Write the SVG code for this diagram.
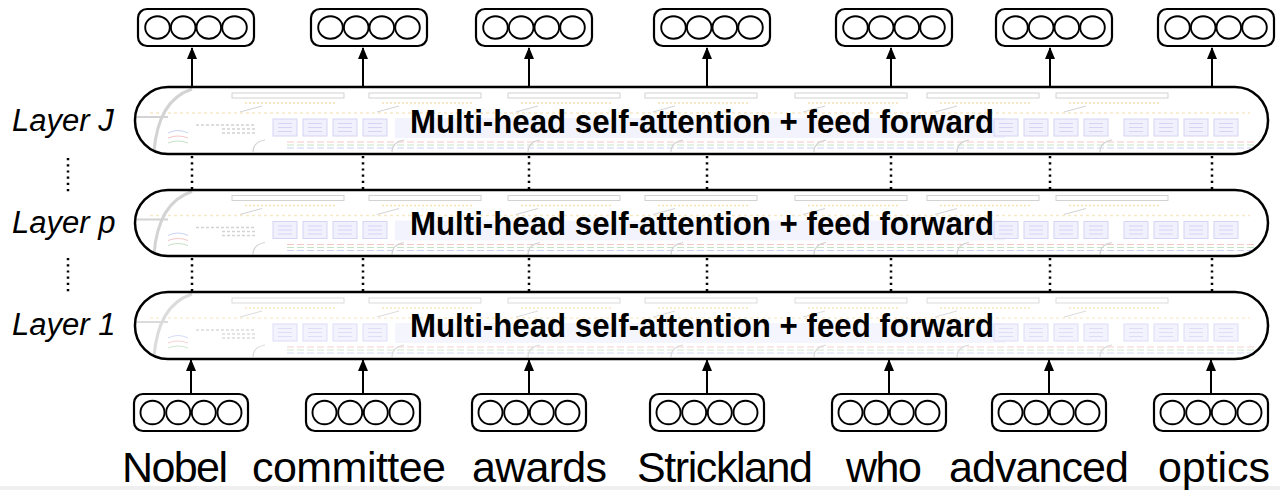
<svg xmlns="http://www.w3.org/2000/svg" xmlns:xlink="http://www.w3.org/1999/xlink" width="1280" height="490" viewBox="0 0 1280 490">
  <style>
    .layer { fill: none; stroke: #000; stroke-width: 2.5; }
    .layer-bg { fill: #fff; }
    .vec { fill: #fff; stroke: #000; stroke-width: 2.2; }
    .unit { fill: none; stroke: #000; stroke-width: 1.9; }
    .arrow { stroke: #000; stroke-width: 2; fill: none; marker-end: url(#ah); }
    .dots { stroke: #000; stroke-width: 2.5; stroke-dasharray: 2.2 4; fill: none; }
    .title { font-family: "Liberation Sans", Arial, sans-serif; font-weight: bold; font-size: 34px; fill: #000; }
    .side { font-family: "Liberation Sans", Arial, sans-serif; font-style: italic; font-size: 31px; fill: #000; }
    .word { font-family: "Liberation Sans", Arial, sans-serif; font-size: 43px; fill: #000; }
    .g-rect { fill: none; stroke: #bdbdbd; stroke-width: 0.9; }
    .g-blk { fill: #ececfc; stroke: #c6c6f2; stroke-width: 1; }
    .g-ln { stroke: #c6c6f2; stroke-width: 1; }
    .g-gray { fill: none; stroke: #c4c4c4; }
  </style>
  <defs>
    <marker id="ah" viewBox="0 0 12 10" refX="11" refY="5" markerWidth="12" markerHeight="10" orient="auto" markerUnits="userSpaceOnUse">
      <path d="M0,0 L12,5 L0,10 z" fill="#000"/>
    </marker>
    <clipPath id="pill">
      <rect x="136" y="88" width="1131" height="65" rx="32" ry="32"/>
    </clipPath>
    <!-- three-line block of the faded encoder sketch -->
    <g id="blk">
      <rect class="g-blk" x="0" y="0" width="24" height="17"/>
      <path class="g-ln" d="M5,4.5 H19 M5,8.5 H19 M5,12.5 H19"/>
    </g>
    <g id="blk4">
      <use xlink:href="#blk" x="0"/>
      <use xlink:href="#blk" x="30"/>
      <use xlink:href="#blk" x="60"/>
      <use xlink:href="#blk" x="90"/>
    </g>
    <!-- faded sketch drawn behind every layer -->
    <g id="sketch">
      <rect x="395" y="118" width="610" height="20" fill="#efeffd"/>
      <g class="g-rect">
        <rect x="232" y="93" width="112" height="5"/>
        <rect x="369" y="93" width="112" height="5"/>
        <rect x="508" y="93" width="112" height="5"/>
        <rect x="645" y="93" width="112" height="5"/>
        <rect x="795" y="93" width="112" height="5"/>
        <rect x="927" y="93" width="112" height="5"/>
        <rect x="1056" y="93" width="112" height="5"/>
      </g>
      <path d="M245,103 H335 M382,103 H472 M521,103 H611 M658,103 H748 M808,103 H898 M940,103 H1030 M1069,103 H1159" stroke="#f1d89a" stroke-width="1.5" stroke-dasharray="2 2"/>
      <path d="M150,113 H1250" stroke="#f5e2b5" stroke-width="1.5" stroke-dasharray="3 3"/>
      <path class="g-gray" stroke-width="1" d="M240,112 L262,106 M377,112 L399,106 M516,112 L538,106 M653,112 L675,106 M803,112 L825,106 M935,112 L957,106 M1064,112 L1086,106"/>
      <use xlink:href="#blk4" x="273" y="119"/>
      <use xlink:href="#blk4" x="994" y="119"/>
      <use xlink:href="#blk4" x="1124" y="119"/>
      <path d="M287,142 H1255" stroke="#f0b4b4" stroke-width="1" stroke-dasharray="7 3"/>
      <path d="M287,145 H1255" stroke="#b2d8b2" stroke-width="1" stroke-dasharray="7 3"/>
      <path d="M287,148 H1255" stroke="#b8c4f2" stroke-width="1" stroke-dasharray="7 3"/>
      <path class="g-gray" stroke-width="1.2" d="M265,140 Q253,142 253,152 M404,140 Q392,142 392,152 M540,140 Q528,142 528,152 M683,140 Q671,142 671,152 M826,140 Q814,142 814,152 M969,140 Q957,142 957,152 M1112,140 Q1100,142 1100,152"/>
      <path class="g-gray" stroke-width="3" d="M192,89 Q158,100 154,152"/>
      <path class="g-gray" stroke-width="2" d="M137,117 H168"/>
      <path class="g-gray" stroke-width="1.5" stroke-dasharray="3 2" d="M196,125 H255 M222,129 H255 M222,133 H255"/>
      <path fill="none" stroke-width="1" d="M168,133 Q178,128 188,133" stroke="#b8c4f2"/>
      <path fill="none" stroke-width="1" d="M168,138 Q178,134 188,138" stroke="#f0b4b4"/>
      <path fill="none" stroke-width="1" d="M168,143 Q178,139 188,143" stroke="#b2d8b2"/>
    </g>
    <!-- vector of four units -->
    <g id="vtop">
      <rect class="vec" x="-58" y="-18.5" width="116" height="37" rx="9"/>
      <ellipse class="unit" cx="-38.5" cy="0" rx="12.3" ry="11.3"/>
      <ellipse class="unit" cx="-12.8" cy="0" rx="12.3" ry="11.3"/>
      <ellipse class="unit" cx="12.8" cy="0" rx="12.3" ry="11.3"/>
      <ellipse class="unit" cx="38.5" cy="0" rx="12.3" ry="11.3"/>
    </g>
    <g id="vbot">
      <rect class="vec" x="-57" y="-18.5" width="114" height="37" rx="9"/>
      <ellipse class="unit" cx="-38.5" cy="0" rx="12" ry="11.8"/>
      <ellipse class="unit" cx="-12.8" cy="0" rx="12" ry="11.8"/>
      <ellipse class="unit" cx="12.8" cy="0" rx="12" ry="11.8"/>
      <ellipse class="unit" cx="38.5" cy="0" rx="12" ry="11.8"/>
    </g>
  </defs>

  <rect x="0" y="0" width="1280" height="490" fill="#fff"/>
  <rect x="0" y="486" width="1280" height="4" fill="#efefef"/>

  <!-- transformer layers -->
  <g id="layer-J">
    <rect class="layer-bg" x="135" y="87" width="1133" height="67" rx="33"/>
    <g clip-path="url(#pill)" opacity="0.75"><use xlink:href="#sketch"/></g>
    <rect class="layer" x="135" y="87" width="1133" height="67" rx="33"/>
    <text class="title" x="702" y="133" text-anchor="middle" textLength="584" lengthAdjust="spacingAndGlyphs">Multi-head self-attention + feed forward</text>
  </g>
  <g id="layer-p">
    <rect class="layer-bg" x="135" y="190" width="1133" height="66" rx="33"/>
    <g clip-path="url(#pill)" opacity="0.75" transform="translate(0,102.5)"><use xlink:href="#sketch"/></g>
    <rect class="layer" x="135" y="190" width="1133" height="66" rx="33"/>
    <text class="title" x="702" y="235" text-anchor="middle" textLength="584" lengthAdjust="spacingAndGlyphs">Multi-head self-attention + feed forward</text>
  </g>
  <g id="layer-1">
    <rect class="layer-bg" x="135" y="292" width="1133" height="67" rx="33"/>
    <g clip-path="url(#pill)" opacity="0.6" transform="translate(0,205)"><use xlink:href="#sketch"/></g>
    <rect class="layer" x="135" y="292" width="1133" height="67" rx="33"/>
    <text class="title" x="702" y="337" text-anchor="middle" textLength="584" lengthAdjust="spacingAndGlyphs">Multi-head self-attention + feed forward</text>
  </g>

  <!-- layer names -->
  <g id="labels">
    <text class="side" x="12" y="131">Layer J</text>
    <text class="side" x="12" y="233">Layer p</text>
    <text class="side" x="12" y="335">Layer 1</text>
  </g>

  <!-- output vectors -->
  <g id="outputs">
    <use xlink:href="#vtop" x="196" y="27.5"/>
    <use xlink:href="#vtop" x="369" y="27.5"/>
    <use xlink:href="#vtop" x="534" y="27.5"/>
    <use xlink:href="#vtop" x="712" y="27.5"/>
    <use xlink:href="#vtop" x="894" y="27.5"/>
    <use xlink:href="#vtop" x="1054" y="27.5"/>
    <use xlink:href="#vtop" x="1216" y="27.5"/>
  </g>

  <!-- input vectors -->
  <g id="inputs">
    <use xlink:href="#vbot" x="191" y="412.5"/>
    <use xlink:href="#vbot" x="363" y="412.5"/>
    <use xlink:href="#vbot" x="529" y="412.5"/>
    <use xlink:href="#vbot" x="707" y="412.5"/>
    <use xlink:href="#vbot" x="889" y="412.5"/>
    <use xlink:href="#vbot" x="1049" y="412.5"/>
    <use xlink:href="#vbot" x="1211" y="412.5"/>
  </g>

  <!-- input words -->
  <g id="words">
    <text class="word" x="122" y="482" textLength="106">Nobel</text>
    <text class="word" x="252" y="482" textLength="194">committee</text>
    <text class="word" x="472" y="482" textLength="135">awards</text>
    <text class="word" x="637" y="482" textLength="176">Strickland</text>
    <text class="word" x="846" y="482" textLength="76">who</text>
    <text class="word" x="949" y="482" textLength="180">advanced</text>
    <text class="word" x="1158" y="482" textLength="112">optics</text>
  </g>

  <!-- connectors -->
  <g id="connectors">
    <path class="arrow" d="M191,394 V360"/>
    <path class="arrow" d="M363,394 V360"/>
    <path class="arrow" d="M529,394 V360"/>
    <path class="arrow" d="M707,394 V360"/>
    <path class="arrow" d="M889,394 V360"/>
    <path class="arrow" d="M1049,394 V360"/>
    <path class="arrow" d="M1211,394 V360"/>
    <path class="arrow" d="M192,87 V48"/>
    <path class="arrow" d="M363,87 V48"/>
    <path class="arrow" d="M529,87 V48"/>
    <path class="arrow" d="M707,87 V48"/>
    <path class="arrow" d="M891,87 V48"/>
    <path class="arrow" d="M1050,87 V48"/>
    <path class="arrow" d="M1212,87 V48"/>
    <path class="dots" d="M192,156 V190 M363,156 V190 M529,156 V190 M707,156 V190 M891,156 V190 M1050,156 V190 M1212,156 V190"/>
    <path class="dots" d="M192,258 V292 M363,258 V292 M529,258 V292 M707,258 V292 M891,258 V292 M1050,258 V292 M1212,258 V292"/>
    <path class="dots" d="M68,158 V194 M68,258 V294"/>
  </g>
</svg>
